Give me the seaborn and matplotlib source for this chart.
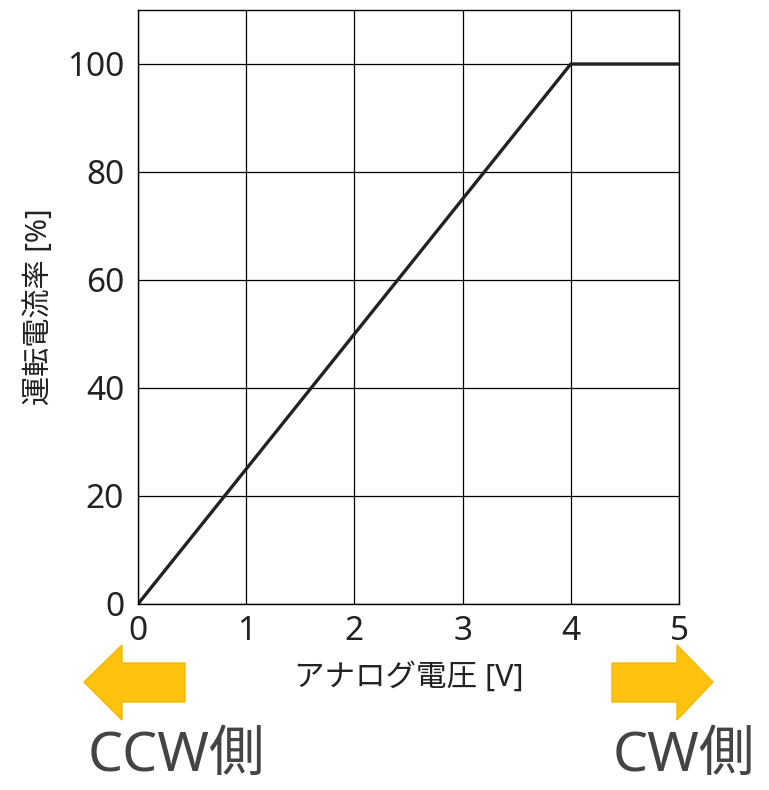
import numpy as np
import pandas as pd
import seaborn as sns
import matplotlib.pyplot as plt
from matplotlib.patches import Polygon

# analog voltage vs operating current ratio
voltage = [0, 4, 5]
current = [0, 100, 100]
x_ticks = [0, 1, 2, 3, 4, 5]
y_ticks = [0, 20, 40, 60, 80, 100]

sns.set_style("white")
plt.rcParams['font.family'] = ['Noto Sans', 'Noto Sans CJK JP', 'DejaVu Sans']

fig = plt.figure(figsize=(7.69, 7.90), dpi=100)
ax = fig.add_axes([138/769, 1-604/790, (679-138)/769, (604-10)/790])

df = pd.DataFrame({"V": voltage, "I": current})
sns.lineplot(data=df, x="V", y="I", ax=ax, color="#222222", linewidth=2.4)

ax.set_xlim(0, 5)
ax.set_ylim(0, 110)
ax.set_xticks(x_ticks)
ax.set_yticks(y_ticks)
ax.grid(True, color="black", linewidth=0.9)
for s in ax.spines.values():
    s.set_color("black")
    s.set_linewidth(1.0)
ax.tick_params(axis="both", labelsize=24, length=0, colors="#222222")
ax.tick_params(axis="x", pad=8)
ax.tick_params(axis="y", pad=10)
ax.set_xlabel("アナログ電圧 [V]", fontsize=22, color="#222222", labelpad=10)
ax.set_ylabel("運転電流率 [%]", fontsize=21, color="#222222", labelpad=9)

def fig_pt(x, y):
    return (x/769, 1-y/790)

left_arrow = [(84, 682), (122, 645), (122, 663), (185, 663), (185, 702), (122, 702), (122, 720)]
right_arrow = [(713, 682), (677, 645), (677, 663), (612, 663), (612, 702), (677, 702), (677, 720)]
for pts in (left_arrow, right_arrow):
    fig.patches.append(Polygon([fig_pt(*p) for p in pts], closed=True,
                               transform=fig.transFigure, facecolor="#FFC20E",
                               edgecolor="#F5B800", linewidth=1))

fig.text(88/769, 1-756/790, "CCW側", fontsize=40, color="#444444", va="center", ha="left")
fig.text(755/769, 1-756/790, "CW側", fontsize=40, color="#444444", va="center", ha="right")

fig.savefig("out.png", dpi=100)
